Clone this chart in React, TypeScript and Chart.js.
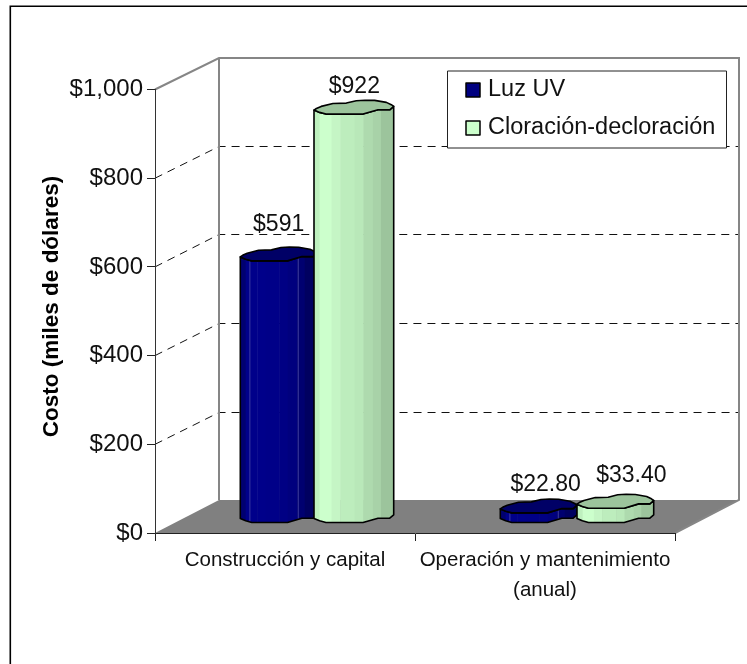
import React, { useEffect, useRef } from "react";
import { Chart, registerables } from "chart.js";

Chart.register(...registerables);

const categories = [["Construcción y capital"], ["Operación y mantenimiento", "(anual)"]];
const luzUV = [591, 22.8];
const cloracion = [922, 33.4];
const luzLabels = ["$591", "$22.80"];
const cloracionLabels = ["$922", "$33.40"];
const yTicks = [0, 200, 400, 600, 800, 1000];
const yTitle = "Costo (miles de dólares)";

const FONT = '"Liberation Sans", Arial, sans-serif';
const DX = 64;
const DY = 32.5;
const BAR_DX = 32;
const BAR_DY = 10;

// shape of the faceted column's cap: [fraction of width, px relative to the left edge]
const capBack: [number, number][] = [[0, 0], [0.03, -1.6], [0.09, -3.7], [0.238, -6.6], [0.406, -7], [0.531, -9.4], [0.64, -9.9], [0.761, -9.7], [0.908, -7.7], [0.97, -5.4], [1, -3.7]];
const capFront: [number, number][] = [[1, -3.7], [0.95, -0.3], [0.803, -0.3], [0.615, 4], [0.385, 4], [0.15, 4], [0.07, 2.3], [0, 0]];

const bandStops = [0, 0.07, 0.22, 0.33, 0.51, 0.62, 0.74, 0.84, 1];
const greenBands = ["#BEF0BE", "#CCFFCC", "#C5F5C5", "#BDEDBD", "#B9E8B9", "#AEDAAE", "#A8D2A8", "#9CC49C"];
const darkBands = ["#000070", "#00008A", "#00008A", "#000088", "#000084", "#00007E", "#000070", "#000060"];
const capColors = ["#000066", "#9CC49C"];
const labelNudge = [
  [[0, -36], [7, -28]],
  [[-1, -27], [16, -33]],
];
const leftGrow = [[0, 0], [3, 0]];

function drawColumn(ctx: CanvasRenderingContext2D, el: any, ds: number, i: number) {
  const grow = leftGrow[ds][i];
  const w = el.width + grow;
  const left = el.x - el.width / 2 + BAR_DX - grow;
  const top = el.y - BAR_DY - 4;
  const bottom = el.base - BAR_DY - 4;
  const pt = (p: [number, number], y: number): [number, number] => [left + p[0] * w, y + p[1]];

  const body = new Path2D();
  capFront.slice().reverse().forEach((p, k) => {
    const [x, y] = pt(p, bottom);
    if (k === 0) body.moveTo(x, y);
    else body.lineTo(x, y);
  });
  capFront.forEach((p) => {
    const [x, y] = pt(p, top);
    body.lineTo(x, y);
  });
  body.closePath();

  ctx.save();
  ctx.clip(body);
  const bands = ds === 0 ? darkBands : greenBands;
  const span = bottom - top + 20;
  bands.forEach((c, k) => {
    ctx.fillStyle = c;
    ctx.fillRect(left + bandStops[k] * w, top - 10, (bandStops[k + 1] - bandStops[k]) * w + 0.5, span + 10);
  });
  if (ds === 0) {
    ctx.fillStyle = "#4A4AA8";
    ctx.fillRect(left + 0.12 * w, top - 10, 0.8, span + 10);
    ctx.fillRect(left + 0.75 * w, top - 10, 0.8, span + 10);
  }
  ctx.restore();

  ctx.strokeStyle = "#000";
  ctx.lineWidth = 1.6;
  ctx.lineJoin = "round";
  ctx.stroke(body);

  const cap = new Path2D();
  [...capBack, ...capFront.slice(1)].forEach((p, k) => {
    const [x, y] = pt(p, top);
    if (k === 0) cap.moveTo(x, y);
    else cap.lineTo(x, y);
  });
  cap.closePath();
  ctx.fillStyle = capColors[ds];
  ctx.fill(cap);
  ctx.stroke(cap);
}

const scene3d = {
  id: "scene3d",
  beforeDraw(chart: any) {
    const { ctx, chartArea: a, scales } = chart;
    ctx.save();
    // outer frame runs off the page on the right and at the bottom
    ctx.strokeStyle = "#000";
    ctx.lineWidth = 1.6;
    ctx.beginPath();
    ctx.moveTo(10.3, 664);
    ctx.lineTo(10.3, 6.3);
    ctx.lineTo(747, 6.3);
    ctx.stroke();

    // floor
    ctx.fillStyle = "#808080";
    ctx.beginPath();
    ctx.moveTo(a.left, a.bottom);
    ctx.lineTo(a.left + DX, a.bottom - DY - 0.5);
    ctx.lineTo(a.right + DX, a.bottom - DY - 0.5);
    ctx.lineTo(a.right, a.bottom);
    ctx.closePath();
    ctx.fill();

    // dashed gridlines on the side and back walls
    ctx.strokeStyle = "#111";
    ctx.lineWidth = 1;
    ctx.setLineDash([8, 6]);
    yTicks.slice(1, -1).forEach((v) => {
      const y = scales.y.getPixelForValue(v);
      const back = Math.round(y - DY) + 0.5;
      ctx.beginPath();
      ctx.moveTo(a.left, y);
      ctx.lineTo(a.left + DX, back);
      ctx.lineTo(a.right + DX, back);
      ctx.stroke();
    });
    ctx.setLineDash([]);

    // wall outline
    ctx.strokeStyle = "#868686";
    ctx.lineWidth = 2;
    ctx.beginPath();
    ctx.moveTo(a.left, a.top);
    ctx.lineTo(a.left + DX, a.top - DY + 1);
    ctx.lineTo(a.right + DX, a.top - DY + 1);
    ctx.lineTo(a.right + DX, a.bottom - DY - 0.5);
    ctx.lineTo(a.right, a.bottom);
    ctx.moveTo(a.left + DX, a.top - DY + 1);
    ctx.lineTo(a.left + DX, a.bottom - DY - 0.5);
    ctx.stroke();

    // axis title
    ctx.translate(52, 306.5);
    ctx.rotate(-Math.PI / 2);
    ctx.fillStyle = "#000";
    ctx.font = `bold 22.5px ${FONT}`;
    ctx.textAlign = "center";
    ctx.textBaseline = "middle";
    ctx.fillText(yTitle, 0, 0);
    ctx.restore();
  },
  beforeDatasetsDraw(chart: any) {
    const { ctx } = chart;
    ctx.save();
    chart.data.labels.forEach((_: any, i: number) => {
      chart.data.datasets.forEach((_d: any, ds: number) => {
        drawColumn(ctx, chart.getDatasetMeta(ds).data[i], ds, i);
      });
    });

    // value labels
    ctx.fillStyle = "#111";
    ctx.font = `23px ${FONT}`;
    ctx.textAlign = "center";
    ctx.textBaseline = "middle";
    chart.data.datasets.forEach((d: any, ds: number) => {
      const meta = chart.getDatasetMeta(ds);
      d.valueLabels.forEach((t: string, i: number) => {
        const el = meta.data[i];
        const [nx, ny] = labelNudge[ds][i];
        ctx.fillText(t, el.x + BAR_DX + nx, el.y - BAR_DY + ny);
      });
    });

    // legend
    ctx.fillStyle = "#fff";
    ctx.fillRect(447, 71, 280, 77);
    ctx.strokeStyle = "#222";
    ctx.lineWidth = 1;
    ctx.strokeRect(447.5, 71, 279, 77);
    ctx.textAlign = "left";
    ctx.font = `23.5px ${FONT}`;
    chart.data.datasets.forEach((d: any, ds: number) => {
      const top = ds === 0 ? 83 : 121;
      ctx.fillStyle = d.backgroundColor;
      ctx.fillRect(466, top, 14, 14);
      ctx.strokeStyle = "#000";
      ctx.lineWidth = 1.5;
      ctx.strokeRect(466, top, 14, 14);
      ctx.fillStyle = "#111";
      ctx.fillText(d.label, 488, top + 6.5);
    });
    ctx.restore();
    return false;
  },
};

export default function App() {
  const ref = useRef<HTMLCanvasElement>(null);
  useEffect(() => {
    const chart = new Chart(ref.current as HTMLCanvasElement, {
      type: "bar",
      data: {
        labels: categories as any,
        datasets: [
          { label: "Luz UV", data: luzUV, backgroundColor: "#000080", valueLabels: luzLabels } as any,
          { label: "Cloración-decloración", data: cloracion, backgroundColor: "#CCFFCC", valueLabels: cloracionLabels } as any,
        ],
      },
      plugins: [scene3d as any],
      options: {
        responsive: false,
        animation: false,
        layout: { padding: { left: 0, right: 72, top: 89.5, bottom: 0 } },
        datasets: { bar: { categoryPercentage: 0.59, barPercentage: 1 } },
        plugins: { legend: { display: false }, tooltip: { enabled: false }, title: { display: false } },
        scales: {
          x: {
            afterFit: (s: any) => { s.height = 131; },
            border: { color: "#222", width: 1 },
            grid: { drawOnChartArea: false, tickLength: 8, color: "#222" },
            ticks: {
              color: "#111",
              autoSkip: false,
              maxRotation: 0,
              padding: 4,
              font: { family: FONT, size: 20.5, lineHeight: 1.46 },
            },
          },
          y: {
            min: 0,
            max: 1000,
            afterFit: (s: any) => { s.width = 155; },
            afterBuildTicks: (s: any) => { s.ticks = yTicks.map((value) => ({ value })); },
            border: { color: "#333", width: 1 },
            grid: { drawOnChartArea: false, tickLength: 8, color: "#222" },
            ticks: {
              color: "#111",
              padding: 4,
              font: { family: FONT, size: 24 },
              callback: (v: any) => "$" + Number(v).toLocaleString("en-US"),
            },
          },
        },
      },
    });
    return () => chart.destroy();
  }, []);
  return (
    <div style={{ position: "absolute", left: 0, top: 0, width: 747, height: 664 }}>
      <canvas ref={ref} width={747} height={664} style={{ display: "block" }} />
    </div>
  );
}
